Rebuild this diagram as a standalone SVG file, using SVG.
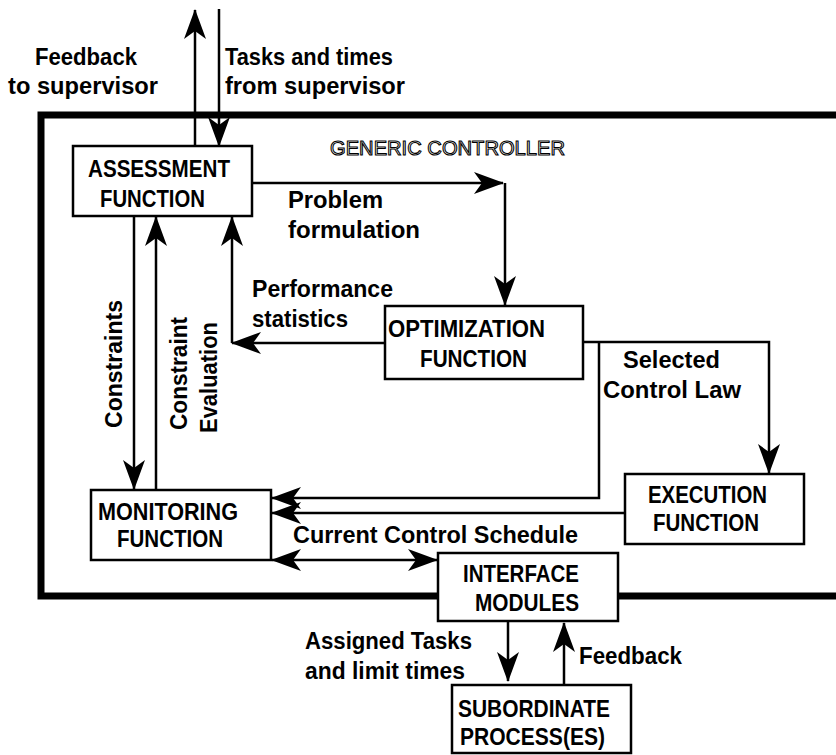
<svg xmlns="http://www.w3.org/2000/svg" width="836" height="755" viewBox="0 0 836 755">
<defs>
<marker id="ah" markerUnits="userSpaceOnUse" markerWidth="32" markerHeight="24" refX="29" refY="11" orient="auto-start-reverse">
<path d="M30,11 L0,0 L8,11 L0,22 Z" fill="#000"/>
</marker>
</defs>
<style>
.node rect{fill:#fff;stroke:#000;stroke-width:2.5}
.t{font-family:"Liberation Sans",Arial,sans-serif;font-weight:bold;font-size:23px;fill:#000}
.node .t{font-size:24px}
.c path{fill:none;stroke:#000;stroke-width:2.5;marker-end:url(#ah)}
.title{font-family:"Liberation Sans",Arial,sans-serif;font-size:21px;fill:#fff;stroke:#000;stroke-width:1.1}
</style>
<rect width="836" height="755" fill="#fff"/>
<rect id="frame" x="41" y="115" width="900" height="481" fill="none" stroke="#000" stroke-width="7"/>
<text class="title" x="330" y="155" textLength="235" lengthAdjust="spacingAndGlyphs">GENERIC CONTROLLER</text>

<g id="connectors" class="c">
<path d="M195,146 L195,10"/>
<path d="M219,9 L219,146"/>
<path d="M252,183 L503,183"/>
<path d="M505,183 L505,305"/>
<path d="M385,343 L232,343"/>
<path d="M232,343 L232,217"/>
<path d="M134,216 L134,489"/>
<path d="M156,490 L156,217"/>
<path d="M583,342 L769,342 L769,473"/>
<path d="M599,342 L599,498 L272,498"/>
<path d="M625,513 L272,513"/>
<path d="M272,560 L437,560" style="marker-start:url(#ah)"/>
<path d="M508,621 L508,681"/>
<path d="M564,685 L564,623"/>
</g>

<g id="labels" class="t">
<text x="35" y="65" textLength="102" lengthAdjust="spacingAndGlyphs">Feedback</text>
<text x="8" y="94" textLength="150" lengthAdjust="spacingAndGlyphs">to supervisor</text>
<text x="225" y="65" textLength="168" lengthAdjust="spacingAndGlyphs">Tasks and times</text>
<text x="225" y="94" textLength="180" lengthAdjust="spacingAndGlyphs">from supervisor</text>
<text x="288" y="208" textLength="95" lengthAdjust="spacingAndGlyphs">Problem</text>
<text x="288" y="238" textLength="132" lengthAdjust="spacingAndGlyphs">formulation</text>
<text x="252" y="297" textLength="141" lengthAdjust="spacingAndGlyphs">Performance</text>
<text x="252" y="327" textLength="96" lengthAdjust="spacingAndGlyphs">statistics</text>
<text x="623" y="368" textLength="97" lengthAdjust="spacingAndGlyphs">Selected</text>
<text x="603" y="398" textLength="138" lengthAdjust="spacingAndGlyphs">Control Law</text>
<text transform="translate(122,428) rotate(-90)" textLength="128" lengthAdjust="spacingAndGlyphs">Constraints</text>
<text transform="translate(187,430) rotate(-90)" textLength="113" lengthAdjust="spacingAndGlyphs">Constraint</text>
<text transform="translate(217,433) rotate(-90)" textLength="111" lengthAdjust="spacingAndGlyphs">Evaluation</text>
<text x="293" y="543" textLength="285" lengthAdjust="spacingAndGlyphs">Current Control Schedule</text>
<text x="305" y="649" textLength="167" lengthAdjust="spacingAndGlyphs">Assigned Tasks</text>
<text x="305" y="679" textLength="160" lengthAdjust="spacingAndGlyphs">and limit times</text>
<text x="579" y="664" textLength="103" lengthAdjust="spacingAndGlyphs">Feedback</text>
</g>

<g id="assessment" class="node">
<rect x="73" y="146" width="179" height="70"/>
<text class="t" x="88" y="177" textLength="142" lengthAdjust="spacingAndGlyphs">ASSESSMENT</text>
<text class="t" x="100" y="207" textLength="105" lengthAdjust="spacingAndGlyphs">FUNCTION</text>
</g>
<g id="optimization" class="node">
<rect x="385" y="306" width="198" height="73"/>
<text class="t" x="388" y="337" textLength="157" lengthAdjust="spacingAndGlyphs">OPTIMIZATION</text>
<text class="t" x="420" y="367" textLength="107" lengthAdjust="spacingAndGlyphs">FUNCTION</text>
</g>
<g id="monitoring" class="node">
<rect x="91" y="490" width="180" height="70"/>
<text class="t" x="98" y="520" textLength="140" lengthAdjust="spacingAndGlyphs">MONITORING</text>
<text class="t" x="117" y="547" textLength="106" lengthAdjust="spacingAndGlyphs">FUNCTION</text>
</g>
<g id="execution" class="node">
<rect x="625" y="474" width="179" height="70"/>
<text class="t" x="648" y="503" textLength="119" lengthAdjust="spacingAndGlyphs">EXECUTION</text>
<text class="t" x="653" y="531" textLength="106" lengthAdjust="spacingAndGlyphs">FUNCTION</text>
</g>
<g id="interface" class="node">
<rect x="438" y="553" width="180" height="68"/>
<text class="t" x="463" y="582" textLength="116" lengthAdjust="spacingAndGlyphs">INTERFACE</text>
<text class="t" x="475" y="611" textLength="104" lengthAdjust="spacingAndGlyphs">MODULES</text>
</g>
<g id="subordinate" class="node">
<rect x="452" y="685" width="179" height="68"/>
<text class="t" x="458" y="717" textLength="152" lengthAdjust="spacingAndGlyphs">SUBORDINATE</text>
<text class="t" x="460" y="745" textLength="145" lengthAdjust="spacingAndGlyphs">PROCESS(ES)</text>
</g>
</svg>
